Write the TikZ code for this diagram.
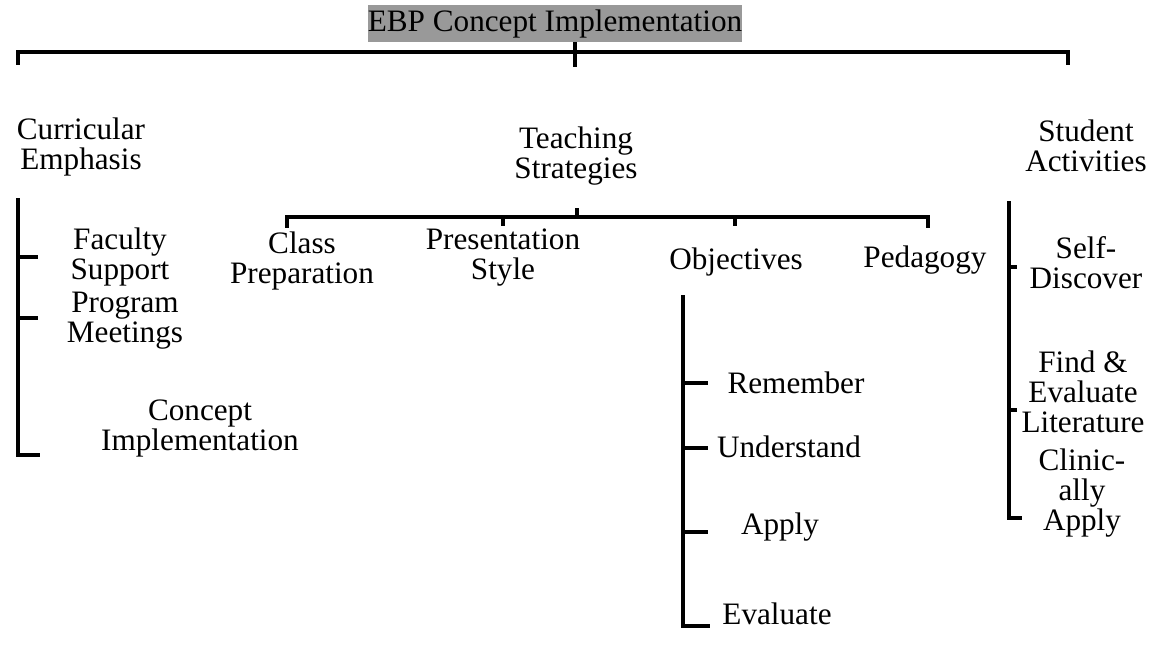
\documentclass[tikz,border=0pt]{standalone}
\usepackage{fontspec}
\setmainfont{Liberation Serif}
\begin{document}
\begin{tikzpicture}[x=0.5pt,y=-0.5pt,
  lbl/.style={font=\fontsize{15.6}{15}\selectfont, align=center, inner sep=0pt},
  bar/.style={line width=2.1pt, line cap=rect},
  tick/.style={line width=2.1pt}]
\useasboundingbox (0,0) rectangle (1161,649);

% heading
\node[lbl, fill=black!40, minimum width=182pt, minimum height=18.5pt] (title) at (555,23.5) {EBP Concept Implementation};

% first level
\node[lbl] (ce) at (81,147) {Curricular\\Emphasis};
\node[lbl] (ts) at (576,156) {Teaching\\Strategies};
\node[lbl] (sa) at (1086,146) {Student\\Activities};

% top bar
\coordinate (hub) at (575,52);
\coordinate (hubLow) at (575,67);
\coordinate (ceEnd) at (18,63);
\coordinate (saEnd) at (1068,63);
\draw[bar] (ceEnd) -- (ceEnd |- hub) -- (saEnd |- hub) -- (saEnd);
\draw[tick] (title.south -| hub) -- (hubLow);

% teaching strategies
\node[lbl] (cp) at (302,261) {Class\\Preparation};
\node[lbl] (ps) at (503,258) {Presentation\\Style};
\node[lbl] (ob) at (736,262) {Objectives};
\node[lbl] (pe) at (925,260) {Pedagogy};
\coordinate (tsHub) at (577,217);
\coordinate (tsUp) at (577,208);
\coordinate (cpEnd) at (287,226);
\coordinate (psEnd) at (503,226);
\coordinate (obEnd) at (735,226);
\coordinate (peEnd) at (928,226);
\draw[bar] (cpEnd) -- (cpEnd |- tsHub) -- (peEnd |- tsHub) -- (peEnd);
\draw[tick] (tsUp) -- (tsHub);
\draw[tick] (psEnd |- tsHub) -- (psEnd);
\draw[tick] (obEnd |- tsHub) -- (obEnd);

% curricular emphasis
\node[lbl] (fs) at (120,257) {Faculty\\Support};
\node[lbl] (pm) at (125,321) {Program\\Meetings};
\node[lbl] (ci) at (200,428) {Concept\\Implementation};
\coordinate (ceTop) at (18,200);
\coordinate (fsT) at (38,257);
\coordinate (pmT) at (38,318);
\coordinate (ciT) at (38,455);
\draw[bar] (ceTop) -- (ceTop |- ciT) -- (ciT);
\draw[tick] (ceTop |- fsT) -- (fsT);
\draw[tick] (ceTop |- pmT) -- (pmT);

% objectives
\node[lbl] (re) at (796,383) {Remember};
\node[lbl] (un) at (789,447) {Understand};
\node[lbl] (ap) at (780,527) {Apply};
\node[lbl] (ev) at (777,614) {Evaluate};
\coordinate (obTop) at (683,297);
\coordinate (reT) at (708,383);
\coordinate (unT) at (708,448);
\coordinate (apT) at (708,532);
\coordinate (evT) at (708,626);
\draw[bar] (obTop) -- (obTop |- evT) -- (evT);
\draw[tick] (obTop |- reT) -- (reT);
\draw[tick] (obTop |- unT) -- (unT);
\draw[tick] (obTop |- apT) -- (apT);

% student activities
\node[lbl] (sd) at (1086,263) {Self-\\Discover};
\node[lbl] (fe) at (1083,392) {Find \&\\Evaluate\\Literature};
\node[lbl] (ca) at (1082,493) {Clinic-\\ally\\Apply};
\coordinate (saTop) at (1009,203);
\coordinate (sdT) at (1017,267);
\coordinate (feT) at (1017,410);
\coordinate (caT) at (1020,518);
\draw[bar] (saTop) -- (saTop |- caT) -- (caT);
\draw[tick] (saTop |- sdT) -- (sdT);
\draw[tick] (saTop |- feT) -- (feT);
\end{tikzpicture}
\end{document}
